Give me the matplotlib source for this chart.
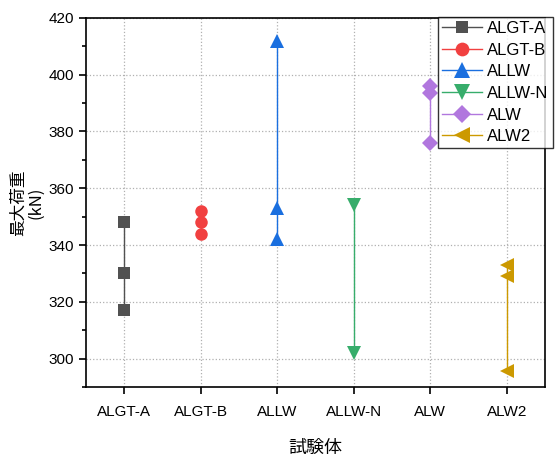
import numpy as np
import matplotlib
matplotlib.use('Agg')
import matplotlib.pyplot as plt
from matplotlib.ticker import MultipleLocator

plt.rcParams['font.family'] = ['Liberation Sans', 'Noto Sans CJK JP', 'DejaVu Sans']

# specimens and measured max loads (kN)
specimens = ['ALGT-A', 'ALGT-B', 'ALLW', 'ALLW-N', 'ALW', 'ALW2']
loads_algt_a = [348, 330, 317]
loads_algt_b = [352, 348, 344]
loads_allw = [412, 353, 342]
loads_allw_n = [354, 302]
loads_alw = [396, 393.5, 376]
loads_alw2 = [333, 329, 295.5]

all_loads = [loads_algt_a, loads_algt_b, loads_allw, loads_allw_n, loads_alw, loads_alw2]
colors = ['#515151', '#F14040', '#1A6FDF', '#37AD6B', '#B177DE', '#CC9900']
markers = ['s', 'o', '^', 'v', 'D', '<']
sizes = [8, 9, 10, 10, 8, 10]

fig = plt.figure(figsize=(5.6, 4.58), dpi=100)
ax = fig.add_axes([0.1536, 0.155, 0.8196, 0.806])

for i, (name, vals) in enumerate(zip(specimens, all_loads)):
    ax.plot([i] * len(vals), vals, color=colors[i], marker=markers[i],
            markersize=sizes[i], linewidth=1, label=name, zorder=3,
            markeredgewidth=0)

ax.set_xlim(-0.5, 5.5)
ax.set_ylim(290, 420)
ax.set_xticks(range(len(specimens)))
ax.set_xticklabels(specimens)
ax.yaxis.set_major_locator(MultipleLocator(20))
ax.yaxis.set_minor_locator(MultipleLocator(10))
ax.tick_params(axis='both', labelsize=11, direction='out', width=1.2, length=5)
ax.tick_params(axis='x', pad=8)
ax.tick_params(axis='y', which='minor', length=3, width=1.2)
ax.grid(True, linestyle=':', color='#b0b0b0', linewidth=0.9)
for s in ax.spines.values():
    s.set_linewidth(1.2)

ax.set_xlabel('試験体', fontsize=13, labelpad=14, family=['Noto Sans CJK JP'])
ax.set_ylabel('最大荷重\n(kN)', fontsize=12, linespacing=1.05, labelpad=3,
              family=['Noto Sans CJK JP'])

leg = ax.legend(loc='upper left', bbox_to_anchor=(0.767, 1.003), fontsize=12,
                frameon=True, fancybox=False, edgecolor='black',
                borderpad=0.25, labelspacing=0.4, handlelength=2.4,
                handletextpad=0.3, borderaxespad=0, markerscale=1.1)
leg.get_frame().set_linewidth(1.0)

fig.savefig('out.png', dpi=100)
